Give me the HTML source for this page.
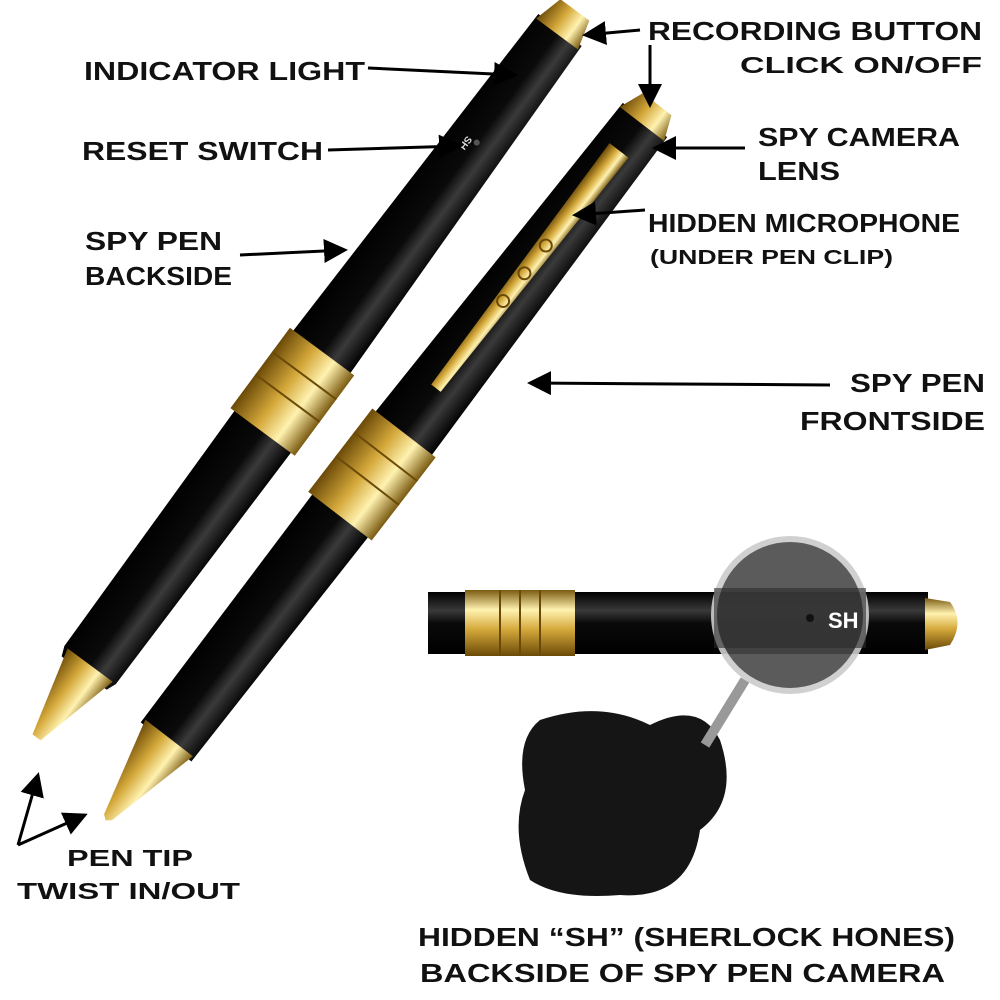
<!DOCTYPE html>
<html><head><meta charset="utf-8"><style>
html,body{margin:0;padding:0;background:#fff;}
svg{display:block}
text{font-family:"Liberation Sans",sans-serif;font-weight:bold;fill:#111}
</style></head><body>
<svg width="1000" height="1000" viewBox="0 0 1000 1000" xmlns="http://www.w3.org/2000/svg">
<defs>
<linearGradient id="blk" x1="0" y1="0" x2="0" y2="1">
<stop offset="0" stop-color="#000"/><stop offset="0.3" stop-color="#3a3a3a"/><stop offset="0.5" stop-color="#0a0a0a"/><stop offset="1" stop-color="#000"/></linearGradient>
<linearGradient id="gld" x1="0" y1="0" x2="0" y2="1">
<stop offset="0" stop-color="#7a5a10"/><stop offset="0.3" stop-color="#fff2b0"/><stop offset="0.6" stop-color="#d4a83a"/><stop offset="1" stop-color="#6b4a08"/></linearGradient>
<marker id="ah" markerWidth="8" markerHeight="8" refX="7" refY="4" orient="auto"><path d="M0,0 L8,4 L0,8 z" fill="#000"/></marker>
</defs>

<!-- back pen -->
<g transform="translate(560,30) rotate(126.5)">
<path d="M0,-27 L420,-36 L790,-32 L800,-28 L800,28 L790,32 L420,36 L0,27 Z" fill="url(#blk)"/>
<path d="M400,-40 L500,-40 L500,40 L400,40 Z" fill="url(#gld)"/>
<line x1="430" y1="-40" x2="430" y2="40" stroke="#6b4a08" stroke-width="2"/>
<line x1="458" y1="-40" x2="458" y2="40" stroke="#6b4a08" stroke-width="2"/>
<path d="M790,-28 L880,-5 L880,5 L790,28 Z" fill="url(#gld)"/>
<path d="M-25,-18 L5,-26 L5,26 L-25,18 Z" fill="url(#gld)"/>
<circle cx="140" cy="0" r="3" fill="#555"/>
<text x="140" y="12" font-size="10" style="fill:#ddd">SH</text>
</g>

<!-- front pen -->
<g transform="translate(645,120) rotate(127.6)">
<path d="M0,-28 L420,-36 L785,-32 L785,32 L420,36 L0,28 Z" fill="url(#blk)"/>
<path d="M395,-40 L500,-40 L500,40 L395,40 Z" fill="url(#gld)"/>
<line x1="425" y1="-40" x2="425" y2="40" stroke="#6b4a08" stroke-width="2"/>
<line x1="455" y1="-40" x2="455" y2="40" stroke="#6b4a08" stroke-width="2"/>
<path d="M780,-30 L880,-5 L884,0 L880,5 L780,30 Z" fill="url(#gld)"/>
<path d="M-20,-18 L5,-28 L5,28 L-20,18 Z" fill="url(#gld)"/>
<path d="M40,-10 L340,-4 L340,8 L40,14 Z" fill="url(#gld)"/>
<circle cx="160" cy="2" r="6" fill="none" stroke="#6b4a08" stroke-width="2"/>
<circle cx="195" cy="2" r="6" fill="none" stroke="#6b4a08" stroke-width="2"/>
<circle cx="230" cy="2" r="6" fill="none" stroke="#6b4a08" stroke-width="2"/>
</g>

<!-- bottom horizontal pen -->
<rect x="428" y="592" width="500" height="62" fill="url(#blk)"/>
<rect x="465" y="590" width="110" height="66" fill="url(#gld)"/>
<line x1="500" y1="590" x2="500" y2="656" stroke="#6b4a08" stroke-width="2"/>
<line x1="520" y1="590" x2="520" y2="656" stroke="#6b4a08" stroke-width="2"/>
<line x1="540" y1="590" x2="540" y2="656" stroke="#6b4a08" stroke-width="2"/>
<path d="M925,598 L950,602 Q965,622 950,645 L925,650 Z" fill="url(#gld)"/>
<path d="M540,720 Q600,700 650,725 Q700,700 720,740 Q740,800 700,830 Q690,900 620,895 Q560,900 530,880 Q510,830 525,790 Q515,740 540,720 Z" fill="#151515"/>
<line x1="745" y1="680" x2="705" y2="745" stroke="#999" stroke-width="10"/>
<circle cx="790" cy="615" r="76" fill="#4a4a4a" opacity="0.9" stroke="#ccc" stroke-width="6"/>
<rect x="714" y="588" width="152" height="60" fill="#2b2b2b" opacity="0.6"/>
<circle cx="810" cy="618" r="4" fill="#111"/>
<text x="828" y="628" font-size="22" style="fill:#fff">SH</text>

<g stroke="#000" stroke-width="3" fill="none" marker-end="url(#ah)">
<line x1="368" y1="68" x2="515" y2="75"/>
<line x1="328" y1="150" x2="460" y2="146"/>
<line x1="240" y1="255" x2="345" y2="250"/>
<line x1="640" y1="30" x2="585" y2="35"/>
<line x1="650" y1="45" x2="650" y2="105"/>
<line x1="745" y1="148" x2="655" y2="148"/>
<line x1="645" y1="210" x2="575" y2="215"/>
<line x1="830" y1="385" x2="530" y2="383"/>
<line x1="18" y1="845" x2="38" y2="775"/>
<line x1="18" y1="845" x2="85" y2="815"/>
</g>

<g lengthAdjust="spacingAndGlyphs">
<text x="84" y="80" font-size="26" textLength="281" lengthAdjust="spacingAndGlyphs">INDICATOR LIGHT</text>
<text x="82" y="160" font-size="26" textLength="241" lengthAdjust="spacingAndGlyphs">RESET SWITCH</text>
<text x="85" y="250" font-size="26" textLength="137" lengthAdjust="spacingAndGlyphs">SPY PEN</text>
<text x="85" y="285" font-size="26" textLength="147" lengthAdjust="spacingAndGlyphs">BACKSIDE</text>
<text x="648" y="40" font-size="26" textLength="334" lengthAdjust="spacingAndGlyphs">RECORDING BUTTON</text>
<text x="740" y="73" font-size="23" textLength="242" lengthAdjust="spacingAndGlyphs">CLICK ON/OFF</text>
<text x="758" y="146" font-size="26" textLength="202" lengthAdjust="spacingAndGlyphs">SPY CAMERA</text>
<text x="758" y="180" font-size="26" textLength="82" lengthAdjust="spacingAndGlyphs">LENS</text>
<text x="648" y="232" font-size="26" textLength="312" lengthAdjust="spacingAndGlyphs">HIDDEN MICROPHONE</text>
<text x="650" y="264" font-size="20" textLength="243" lengthAdjust="spacingAndGlyphs">(UNDER PEN CLIP)</text>
<text x="850" y="392" font-size="26" textLength="135" lengthAdjust="spacingAndGlyphs">SPY PEN</text>
<text x="800" y="430" font-size="26" textLength="185" lengthAdjust="spacingAndGlyphs">FRONTSIDE</text>
<text x="67" y="866" font-size="23" textLength="126" lengthAdjust="spacingAndGlyphs">PEN TIP</text>
<text x="17" y="899" font-size="23" textLength="223" lengthAdjust="spacingAndGlyphs">TWIST IN/OUT</text>
<text x="418" y="946" font-size="26" textLength="537" lengthAdjust="spacingAndGlyphs">HIDDEN “SH” (SHERLOCK HONES)</text>
<text x="420" y="982" font-size="26" textLength="525" lengthAdjust="spacingAndGlyphs">BACKSIDE OF SPY PEN CAMERA</text>
</g>
</svg>
</body></html>
